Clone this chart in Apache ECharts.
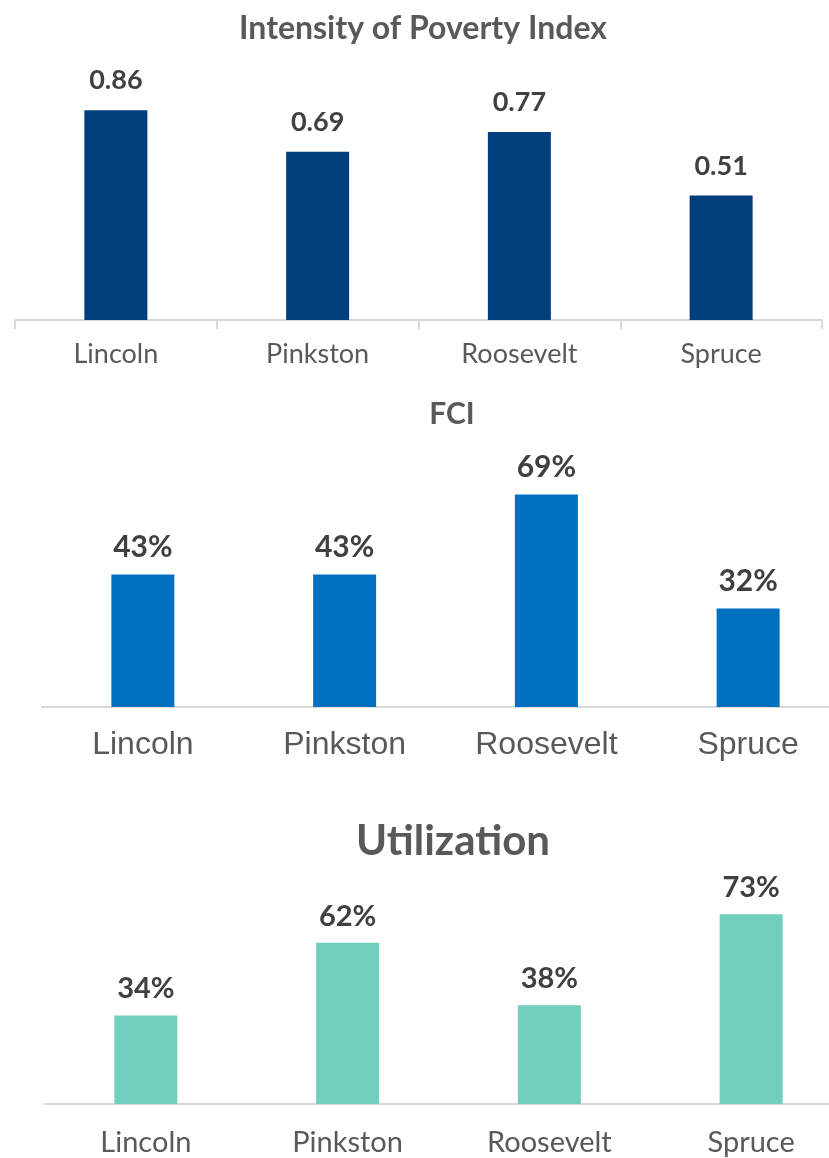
<!DOCTYPE html>
<html lang="en">
<head>
    <meta charset="UTF-8">
    <title>School Metrics</title>
    <script src="https://cdn.jsdelivr.net/npm/echarts@6/dist/echarts.min.js"></script>
    <style>
        * { margin: 0; padding: 0; box-sizing: border-box; }
        html, body { width: 829px; height: 1158px; background: #fff; overflow: hidden; }
        /* canvas is a bit wider than the page so the lower axes run off the right edge */
        #main { width: 860px; height: 1158px; }
    </style>
</head>
<body>
    <div id="main"></div>
    <script>
        // data
        const schools = ['Lincoln', 'Pinkston', 'Roosevelt', 'Spruce'];
        const povertyIndex = [0.86, 0.69, 0.77, 0.51];
        const fciPct = [43, 43, 69, 32];
        const utilizationPct = [34, 62, 38, 73];

        const calibriLike = 'Lato, "Open Sans", sans-serif';
        const labelColor = '#404040';
        const catColor = '#595959';
        const axisGrey = '#d9d9d9';

        const chart = echarts.init(document.getElementById('main'));

        function valueLabel(fmt, size, dist) {
            return {
                show: true,
                position: 'top',
                distance: dist,
                formatter: fmt,
                fontFamily: calibriLike,
                fontWeight: 'bold',
                fontSize: size,
                color: labelColor
            };
        }

        function catAxis(idx, font, size, margin, ticks) {
            return {
                type: 'category',
                gridIndex: idx,
                data: schools,
                axisLine: { show: true, lineStyle: { color: axisGrey, width: 2 } },
                axisTick: { show: ticks, length: 9, lineStyle: { color: axisGrey, width: 2 } },
                axisLabel: { fontFamily: font, fontSize: size, color: catColor, margin: margin }
            };
        }

        function valAxis(idx, max) {
            return {
                type: 'value',
                gridIndex: idx,
                min: 0,
                max: max,
                show: false,
                splitLine: { show: false }
            };
        }

        const option = {
            backgroundColor: '#fff',
            animation: false,
            title: [
                {
                    text: 'Intensity of Poverty Index',
                    left: 418, top: 8, textAlign: 'center',
                    textStyle: { fontFamily: calibriLike, fontWeight: 'bold', fontSize: 32, color: '#595959' }
                },
                {
                    text: 'FCI',
                    left: 447, top: 394, textAlign: 'center',
                    textStyle: { fontFamily: calibriLike, fontWeight: 'bold', fontSize: 30, color: '#595959' }
                },
                {
                    text: 'Utilization',
                    left: 448, top: 815, textAlign: 'center',
                    textStyle: { fontFamily: calibriLike, fontWeight: 'bold', fontSize: 42, color: '#595959' }
                }
            ],
            grid: [
                { left: 15, right: 38, top: 76, bottom: 838 },
                { left: 42, right: 11, top: 399, bottom: 451 },
                { left: 45, right: 8, top: 844, bottom: 54 }
            ],
            xAxis: [
                catAxis(0, calibriLike, 27, 21, true),
                catAxis(1, '"Liberation Sans", Arial, sans-serif', 32, 22, false),
                catAxis(2, calibriLike, 29, 24, false)
            ],
            yAxis: [
                valAxis(0, 1),
                valAxis(1, 100),
                valAxis(2, 100)
            ],
            series: [
                {
                    type: 'bar', xAxisIndex: 0, yAxisIndex: 0,
                    data: povertyIndex, barWidth: 63,
                    itemStyle: { color: '#003f7c' },
                    label: valueLabel('{c}', 27, 16)
                },
                {
                    type: 'bar', xAxisIndex: 1, yAxisIndex: 1,
                    data: fciPct, barWidth: 63,
                    itemStyle: { color: '#0070c0' },
                    label: valueLabel('{c}%', 30, 12)
                },
                {
                    type: 'bar', xAxisIndex: 2, yAxisIndex: 2,
                    data: utilizationPct, barWidth: 63,
                    itemStyle: { color: '#72cfbf' },
                    label: valueLabel('{c}%', 29, 12)
                }
            ]
        };
        chart.setOption(option);
    </script>
</body>
</html>
